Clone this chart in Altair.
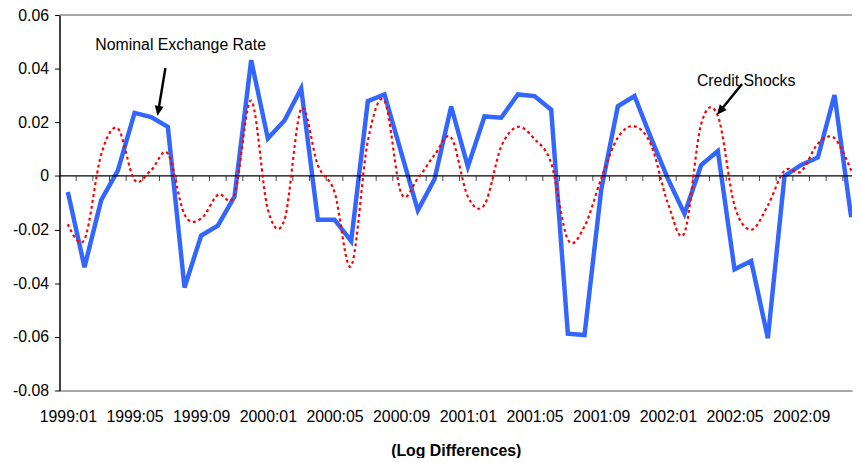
import math
import altair as alt
import pandas as pd

# ---------------- data ----------------
months = [f"{y}:{m:02d}" for y in range(1999, 2003) for m in range(1, 13)]

exchange_rate = [
    -0.0060, -0.0340, -0.0090, 0.0020, 0.0235, 0.0220, 0.0183, -0.0416, -0.0222, -0.0185, -0.0077, 0.0432,
    0.0140, 0.0207, 0.0327, -0.0163, -0.0163, -0.0243, 0.0279, 0.0304, 0.0088, -0.0128, -0.0012, 0.0259,
    0.0035, 0.0222, 0.0217, 0.0304, 0.0298, 0.0247, -0.0588, -0.0593, -0.0052, 0.0260, 0.0298, 0.0140,
    -0.0010, -0.0141, 0.0041, 0.0093, -0.0348, -0.0317, -0.0605, 0.0000, 0.0041, 0.0069, 0.0302, -0.0154,
]

credit_shocks = [
    -0.0180, -0.0237, 0.0080, 0.0177, -0.0015, 0.0022, 0.0084, -0.0144, -0.0159, -0.0070, -0.0070, 0.0281,
    -0.0125, -0.0163, 0.0250, 0.0040, -0.0060, -0.0336, 0.0130, 0.0280, -0.0064, -0.0009, 0.0078, 0.0143,
    -0.0077, -0.0107, 0.0109, 0.0183, 0.0138, 0.0047, -0.0237, -0.0188, -0.0010, 0.0143, 0.0185, 0.0115,
    -0.0101, -0.0212, 0.0194, 0.0224, -0.0110, -0.0200, -0.0110, 0.0020, 0.0017, 0.0120, 0.0141, 0.0020,
]

y_ticks = [-0.08, -0.06, -0.04, -0.02, 0, 0.02, 0.04, 0.06]
label_step = 4

annot_text = ["Nominal Exchange Rate", "Credit Shocks"]
annot_x = [6.77, 40.70]
annot_y = [0.0490, 0.0355]
arrow_from_x = [5.854, 40.45]
arrow_from_y = [0.0402, 0.0343]
arrow_to_x = [5.379, 38.95]
arrow_to_y = [0.02245, 0.0228]

# ---------------- layout ----------------
X_DOMAIN = [-0.5, 47.05]
Y_DOMAIN = [-0.08, 0.06]
W, H = 800, 379
PX_X = W / (X_DOMAIN[1] - X_DOMAIN[0])
PX_Y = H / (Y_DOMAIN[1] - Y_DOMAIN[0])
FONT = "Liberation Sans"

n = len(months)
df = pd.DataFrame({
    "idx": list(range(n)),
    "month": months,
    "fx": exchange_rate,
    "cs": credit_shocks,
})
bounds = pd.DataFrame({"b": [i - 0.5 for i in range(n + 1)], "z": [0] * (n + 1)})

# arrows
rows = []
for fx_, fy_, tx_, ty_ in zip(arrow_from_x, arrow_from_y, arrow_to_x, arrow_to_y):
    dx = (tx_ - fx_) * PX_X
    dy = -(ty_ - fy_) * PX_Y
    ln = math.hypot(dx, dy)
    ang = math.degrees(math.atan2(dx, -dy)) % 360
    sx = tx_ - 6 * (dx / ln) / PX_X
    sy = ty_ + 6 * (dy / ln) / PX_Y
    rows.append({"fx": fx_, "fy": fy_, "sx": sx, "sy": sy, "tx": tx_, "ty": ty_, "ang": ang})
arrows = pd.DataFrame(rows)
annots = pd.DataFrame({"x": annot_x, "y": annot_y, "t": annot_text})
zero_df = pd.DataFrame({"z": [0]})

xs = alt.Scale(domain=X_DOMAIN, nice=False, zero=False)
ys = alt.Scale(domain=Y_DOMAIN, nice=False, zero=False)

label_array = "[" + ",".join(f"'{m}'" for m in months) + "]"

x_axis = alt.Axis(
    values=list(range(0, n, label_step)),
    labelExpr=f"{label_array}[datum.value]",
    ticks=False, tickSize=0, grid=False,
    domain=True, domainColor="#8c8c8c", domainWidth=1.5,
    labelFont=FONT, labelFontSize=16, labelColor="#000000",
    labelPadding=18, labelAngle=0, labelFlush=False, labelOverlap=False,
    title="(Log Differences)", titleFont=FONT, titleFontSize=16,
    titleFontWeight="bold", titleColor="#000000", titlePadding=19,
)
y_axis = alt.Axis(
    values=y_ticks,
    labelExpr="datum.value == 0 ? '0' : (datum.value < 0 ? '-' + format(-datum.value, '.2f') : format(datum.value, '.2f'))",
    tickSize=5, tickColor="#000000", tickWidth=1,
    domainColor="#000000", domainWidth=1.5, grid=False,
    labelFont=FONT, labelFontSize=16, labelColor="#000000", labelPadding=6,
    title=None,
)


def X(field):
    return alt.X(field, scale=xs, axis=x_axis)


def Y(field):
    return alt.Y(field, scale=ys, axis=y_axis)


base = alt.Chart(df)

blue = base.mark_line(color="#3366FF", strokeWidth=4.5, clip=True).encode(
    x=X("idx:Q"), y=Y("fx:Q"),
)
red = base.mark_line(color="#FF0000", strokeWidth=2.2, strokeDash=[3, 3],
                     interpolate="cardinal", clip=True).encode(
    x=X("idx:Q"), y=Y("cs:Q"),
)
zero_line = alt.Chart(zero_df).mark_rule(color="#000000", strokeWidth=1.2).encode(
    y=Y("z:Q")
)
ticks = alt.Chart(bounds).mark_tick(orient="vertical", size=5, thickness=1,
                                    color="#000000", yOffset=2.5, clip=True).encode(
    x=X("b:Q"), y=Y("z:Q"),
)
top_border = alt.Chart(zero_df).mark_rule(color="#8c8c8c", strokeWidth=1.5).encode(
    y=alt.value(0)
)
shafts = alt.Chart(arrows).mark_rule(color="#000000", strokeWidth=2.5).encode(
    x=X("fx:Q"), y=Y("fy:Q"), x2="sx:Q", y2="sy:Q",
)
heads = alt.Chart(arrows).mark_point(shape="M0,0L-0.45,1L0.45,1Z", filled=True,
                                     color="#000000", size=400, opacity=1,
                                     strokeWidth=0).encode(
    x=X("tx:Q"), y=Y("ty:Q"),
    angle=alt.Angle("ang:Q", scale=None),
)
texts = alt.Chart(annots).mark_text(font=FONT, fontSize=16, color="#000000",
                                    align="center", baseline="middle").encode(
    x=X("x:Q"), y=Y("y:Q"), text="t:N",
)

chart = alt.layer(blue, top_border, zero_line, ticks, red, shafts, heads, texts).properties(
    width=W, height=H,
    padding={"left": 52, "top": 5, "right": 1, "bottom": 66},
    autosize=alt.AutoSizeParams(type="none"),
    background="white",
).configure_view(stroke=None)

chart.save("out.html", embed_options={"renderer": "svg", "actions": False})
